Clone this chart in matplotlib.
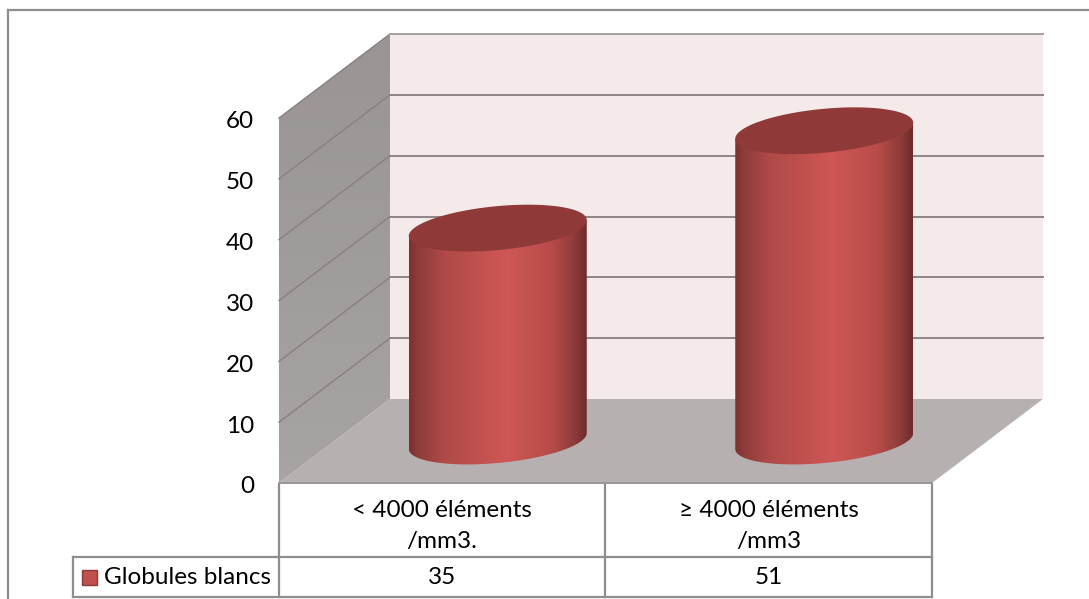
import numpy as np
import matplotlib
matplotlib.use("Agg")
import matplotlib.pyplot as plt
from matplotlib.colors import LinearSegmentedColormap
from matplotlib.patches import PathPatch, Polygon, Rectangle
from matplotlib.path import Path

categories = ["< 4000 éléments\n/mm3.", "≥ 4000 éléments\n/mm3"]
values = [35, 51]
series_name = "Globules blancs"
y_ticks = [0, 10, 20, 30, 40, 50, 60]

W, H = 1089, 599
plt.rcParams["font.family"] = ["Lato", "DejaVu Sans"]
label_size = 17.5

fig = plt.figure(figsize=(W / 100, H / 100), dpi=100, facecolor="white")

# frame and table live in a pixel-sized overlay, the chart itself in value units
bg = fig.add_axes([0, 0, 1, 1])
bg.set_xlim(0, W)
bg.set_ylim(H, 0)
bg.axis("off")

ax = fig.add_axes([279 / W, (H - 483) / H, 653 / W, 365 / H])
ax.set_xlim(0, len(categories))
ax.set_ylim(0, 60)
ax.axis("off")

# depth of the 3D box, in data units
dx = 111 / (653 / 2)
dy = 84 / (365 / 60)
x_end = len(categories)
y_top = y_ticks[-1]

wall = "#f5eaea"
floor = "#b7b0b0"
grid = "#8f8585"
side_grid = "#878080"

ax.add_patch(Polygon([(dx, dy), (x_end + dx, dy), (x_end + dx, y_top + dy), (dx, y_top + dy)],
                     fc=wall, ec="none", clip_on=False, zorder=1))

# side wall fades from dark at the top to a lighter grey at the floor
side_cmap = LinearSegmentedColormap.from_list("side", ["#a8a4a4", "#9a9494"])
side_img = ax.imshow(np.linspace(0, 1, 128)[:, None], cmap=side_cmap, aspect="auto", origin="lower",
                     extent=(0, dx, 0, y_top + dy), zorder=1)
side_img.set_clip_box(fig.bbox)
side_img.set_clip_path(PathPatch(Path([(0, 0), (dx, dy), (dx, y_top + dy), (0, y_top), (0, 0)]),
                                 transform=ax.transData))

ax.add_patch(Polygon([(0, 0), (x_end, 0), (x_end + dx, dy), (dx, dy)],
                     fc=floor, ec="none", clip_on=False, zorder=1))

for t in y_ticks:
    if t > 0:
        ax.plot([0, dx], [t, t + dy], color=side_grid, lw=1.0, clip_on=False, zorder=2)
        ax.plot([dx, x_end + dx], [t + dy, t + dy], color=grid, lw=1.4, clip_on=False, zorder=2)
    ax.annotate(str(t), (0, t), xytext=(-18, -2.8), textcoords="offset points", ha="right", va="center",
                fontsize=label_size, color="black", annotation_clip=False)
ax.plot([dx, x_end + dx], [y_top + dy, y_top + dy], color="#a8a2a2", lw=1.4, clip_on=False, zorder=2)
ax.plot([0, x_end], [0, 0], color="#9c9696", lw=1.4, clip_on=False, zorder=2)

# shading across a cylinder, dark at the rims
shade = LinearSegmentedColormap.from_list("shade", [
    (0.0, "#7c3230"), (0.05, "#8e3c3a"), (0.2, "#b04a48"), (0.55, "#cf5755"),
    (0.8, "#b84c4a"), (0.93, "#8e3c3a"), (1.0, "#6f2b29")])
top_color = "#8f3a38"
half_w = 89 / (653 / 2)
semi_h = 22 / (365 / 60)
skew = 8 / (365 / 60)   # the ellipses lean up towards the right

for i, v in enumerate(values):
    cx = i + 0.5 + dx / 2
    base = dy / 2

    t = np.linspace(np.pi, 0, 80)
    low_x = cx + half_w * np.cos(t)
    low_y = base - semi_h * np.sin(t) + skew * np.cos(t)
    body = np.column_stack([
        np.r_[low_x, cx + half_w, cx - half_w],
        np.r_[low_y, v + base + skew, v + base - skew],
    ])
    img = ax.imshow(np.linspace(0, 1, 256)[None, :], cmap=shade, aspect="auto", vmin=0, vmax=1,
                    extent=(cx - half_w, cx + half_w, 0, v + dy), zorder=3)
    img.set_clip_path(PathPatch(Path(body), transform=ax.transData))

    t = np.linspace(0, 2 * np.pi, 160)
    ax.fill(cx + half_w * np.cos(t), v + base + semi_h * np.sin(t) + skew * np.cos(t),
            color=top_color, lw=0, zorder=4, clip_on=False)

ax.set_xlim(0, len(categories))
ax.set_ylim(0, 60)

# outer chart frame, open on the right and at the bottom
line = "#8e8e8e"
bg.plot([8, 8], [H, 10], color=line, lw=1.6)
bg.plot([8, W], [10, 10], color=line, lw=1.6)

# data table under the axis
table_x = [279, 605, 932]
for x in table_x:
    bg.plot([x, x], [484, 597], color=line, lw=1.6)
bg.plot([73, 73], [557, 597], color=line, lw=1.6)
bg.plot([73, 932], [557, 557], color=line, lw=1.6)
bg.plot([73, 932], [597, 597], color=line, lw=1.6)

for i, cat in enumerate(categories):
    xc = (table_x[i] + table_x[i + 1]) / 2
    bg.text(xc, 526, cat, ha="center", va="center", fontsize=label_size, linespacing=1.55)
    bg.text(xc, 578, str(values[i]), ha="center", va="center", fontsize=label_size)

bg.add_patch(Rectangle((82, 570), 15, 15, fc="#c0504d", ec="#8c3a38", lw=1))
bg.text(104, 577, series_name, ha="left", va="center", fontsize=label_size)

fig.savefig("out.png", dpi=100, facecolor="white")
